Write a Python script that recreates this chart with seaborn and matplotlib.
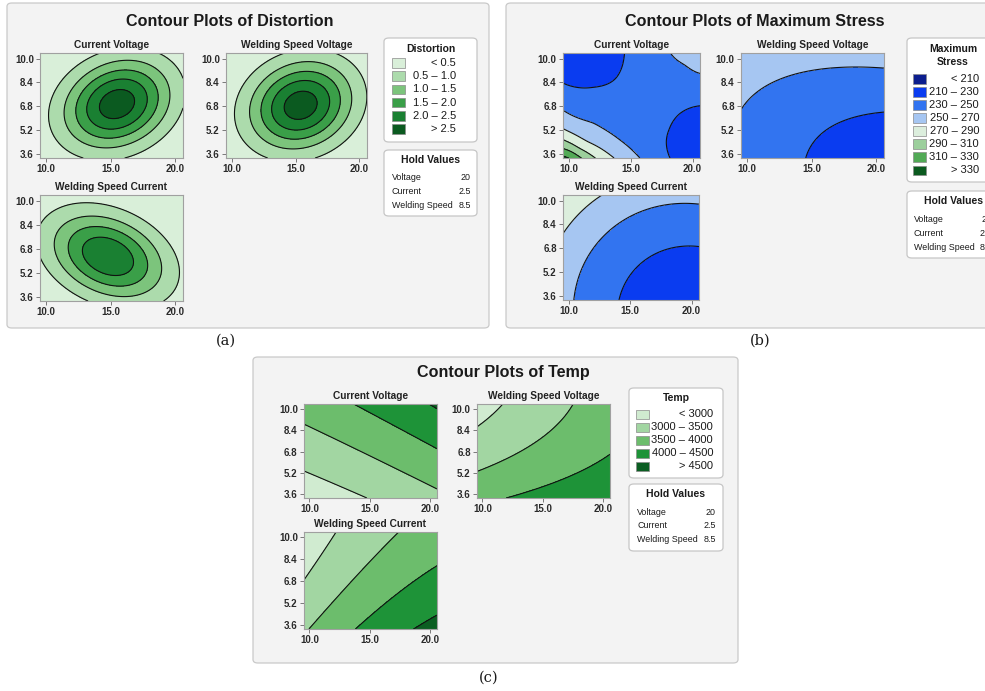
import numpy as np
import matplotlib
matplotlib.use("Agg")
import matplotlib.pyplot as plt
import seaborn as sns
from matplotlib.patches import FancyBboxPatch, Rectangle

sns.set_theme(style="white")
plt.rcParams['font.family'] = ['Liberation Sans', 'DejaVu Sans']

# ---------------------------------------------------------------- data
subplot_titles = ["Current Voltage", "Welding Speed Voltage", "Welding Speed Current"]
x_ticks = [10.0, 15.0, 20.0]
y_ticks = [3.6, 5.2, 6.8, 8.4, 10.0]
x_range = (9.55, 20.6)
y_range = (3.33, 10.38)

hold_names = ["Voltage", "Current", "Welding Speed"]
hold_values = ["20", "2.5", "8.5"]

# Distortion (bell shaped response): peak, centre, spread, correlation per subplot
distortion_bounds = [0.5, 1.0, 1.5, 2.0, 2.5]
distortion_labels = ["< 0.5", "0.5 – 1.0", "1.0 – 1.5", "1.5 – 2.0", "2.0 – 2.5", "> 2.5"]
distortion_colors = ['#d9efd9', '#acdbac', '#7cc47c', '#3a9f48', '#1a8032', '#0b5a20']
distortion_peak = [2.80, 2.78, 2.45]
distortion_cx = [15.5, 15.4, 14.8]
distortion_cy = [6.95, 6.87, 6.30]
distortion_sx = [2.85, 2.80, 3.10]
distortion_sy = [2.05, 2.05, 2.00]
distortion_rho = [0.20, 0.15, -0.30]

# Maximum stress: points (x, y, value); most lie on contour lines
stress_bounds = [210, 230, 250, 270, 290, 310, 330]
stress_labels = ["< 210", "210 – 230", "230 – 250", "250 – 270", "270 – 290",
                 "290 – 310", "310 – 330", "> 330"]
stress_colors = ['#0c1e8e', '#0a3cf0', '#3274f0', '#a6c6f2', '#dceedd',
                 '#9ccf9c', '#52aa56', '#0b5a1f']
stress_cv_x = [9.55, 11.99, 13.84, 14.37, 14.5, 18.15, 18.15, 18.95, 20.0, 20.6,
               9.55, 11.99, 14.13, 15.75, 18.15, 19.47, 20.6,
               9.55, 11.5, 13.65, 9.55, 10.8, 12.14, 9.55, 11.07, 9.55, 10.08,
               9.55, 20.6, 20.6, 9.55,
               16.4, 9.55, 16.5, 16.9, 20.6]
stress_cv_y = [8.32, 8.10, 8.66, 9.55, 10.38, 3.33, 5.20, 6.32, 6.76, 6.87,
               6.54, 5.76, 4.53, 3.33, 10.38, 9.66, 8.99,
               5.25, 4.40, 3.33, 4.58, 3.95, 3.33, 3.91, 3.33, 3.42, 3.40,
               10.38, 10.38, 3.33, 3.33,
               7.5, 7.4, 10.38, 3.33, 7.9]
stress_cv_v = [230] * 10 + [250] * 7 + [270, 270, 270, 290, 290, 290, 310, 310, 330, 330,
                                        218, 262, 216, 338,
                                        240, 240, 240, 240, 240]

stress_wsv_x = [9.55, 11.56, 14.1, 16.66, 20.6,
                14.41, 15.64, 16.66, 17.94, 19.21, 20.6,
                9.55, 20.6]
stress_wsv_y = [6.54, 7.65, 8.77, 9.17, 9.26,
                3.33, 4.98, 5.65, 6.20, 6.49, 6.59,
                10.38, 3.33]
stress_wsv_v = [250] * 5 + [230] * 6 + [262, 218]

stress_wsc_x = [9.55, 10.91, 12.78, 10.26, 11.98, 14.67, 17.34, 20.6,
                14.27, 15.47, 17.34, 20.6, 20.6]
stress_wsc_y = [7.46, 8.90, 10.38, 3.33, 7.34, 9.01, 9.61, 9.75,
                3.33, 5.34, 6.56, 6.85, 3.33]
stress_wsc_v = [270] * 3 + [250] * 5 + [230] * 4 + [217]

# Temp: points (x, y, value); most lie on contour lines
temp_bounds = [3000, 3500, 4000, 4500]
temp_labels = ["< 3000", "3000 – 3500", "3500 – 4000", "4000 – 4500", "> 4500"]
temp_colors = ['#d0ebd0', '#a2d6a2', '#6cbd6c', '#1e9338', '#0b5e22']
temp_cv_x = [9.55, 12.06, 14.6, 9.55, 15.08, 20.6, 13.8, 17.22, 20.6, 19.9, 20.6]
temp_cv_y = [5.41, 4.42, 3.33, 8.8, 6.43, 4.06, 10.38, 8.71, 7.0, 10.38, 10.0]
temp_cv_v = [3000] * 3 + [3500] * 3 + [4000] * 3 + [4500] * 2

temp_wsv_x = [9.55, 10.64, 12.18, 9.55, 12.88, 15.68, 17.36, 12.32, 15.68, 18.48, 20.6,
              9.55, 20.6]
temp_wsv_y = [8.56, 9.5, 10.38, 5.33, 6.65, 8.14, 10.38, 3.33, 4.55, 5.9, 6.4,
              10.38, 3.33]
temp_wsv_v = [3000] * 3 + [3500] * 4 + [4000] * 4 + [2850, 4380]

temp_wsc_x = [9.55, 10.7, 12.52, 9.86, 13.36, 15.32, 17.28, 14.06, 17.28, 20.6, 18.4, 20.6]
temp_wsc_y = [6.73, 8.64, 10.38, 3.33, 6.85, 8.76, 10.38, 3.33, 5.54, 7.8, 3.33, 4.46]
temp_wsc_v = [3000] * 3 + [3500] * 4 + [4000] * 3 + [4500] * 2

# ---------------------------------------------------------------- helpers
W, H = 985, 691
fig = plt.figure(figsize=(W / 100, H / 100), dpi=100)
fig.patch.set_facecolor('white')

gx = np.linspace(x_range[0], x_range[1], 300)
gy = np.linspace(y_range[0], y_range[1], 300)
GX, GY = np.meshgrid(gx, gy)
YS = 15.0 / 13.0   # one unit of y is drawn a little longer than one unit of x


def basis(x, y):
    u = (np.asarray(x, float) - 15.0) / 5.0
    v = (np.asarray(y, float) - 6.8) / 3.2
    return np.stack([np.ones_like(u), u, v, u * u, v * v, u * v], axis=-1)


def quad_surface(xs, ys, vs, iters=15):
    """Quadratic response surface fitted to the read contour points; re-weighted so
    the error is measured as a distance from the contour line."""
    xs = np.asarray(xs, float)
    ys = np.asarray(ys, float)
    vs = np.asarray(vs, float)
    A = basis(xs, ys)
    w = np.ones_like(vs)
    eps = 1e-3
    for _ in range(iters):
        coef, *_ = np.linalg.lstsq(A * w[:, None], vs * w, rcond=None)
        gxv = (basis(xs + eps, ys) @ coef - basis(xs - eps, ys) @ coef) / (2 * eps)
        gyv = (basis(xs, ys + eps) @ coef - basis(xs, ys - eps) @ coef) / (2 * eps)
        g = np.hypot(gxv / 13.0, gyv / 15.0)
        g = np.maximum(g, np.median(g) * 0.2)
        w = 1.0 / g
        w = w / w.mean()
    return basis(GX, GY) @ coef


def tps_kernel(d):
    return np.where(d > 0, d * d * np.log(np.maximum(d, 1e-12)), 0.0)


def tps_surface(xs, ys, vs, lam):
    px = np.asarray(xs, float)
    py = np.asarray(ys, float) * YS
    v = np.asarray(vs, float)
    n = len(v)
    K = tps_kernel(np.hypot(px[:, None] - px[None, :], py[:, None] - py[None, :]))
    K = K + lam * np.eye(n)
    P = np.column_stack([np.ones(n), px, py])
    A = np.block([[K, P], [P.T, np.zeros((3, 3))]])
    sol = np.linalg.solve(A, np.concatenate([v, np.zeros(3)]))
    w, a = sol[:n], sol[n:]
    qx, qy = GX, GY * YS
    Kg = tps_kernel(np.hypot(qx[..., None] - px, qy[..., None] - py))
    return Kg @ w + a[0] + a[1] * qx + a[2] * qy


def bell(peak, cx, cy, sx, sy, rho):
    u = (GX - cx) / sx
    v = (GY - cy) / sy
    q = (u * u - 2 * rho * u * v + v * v) / (1 - rho ** 2)
    return peak * np.exp(-0.5 * q)


def box(x1, y1, x2, y2, fc, ec, z, rs=0.005):
    fig.add_artist(FancyBboxPatch((x1 / W, 1 - y2 / H), (x2 - x1) / W, (y2 - y1) / H,
                                  boxstyle=f"round,pad=0,rounding_size={rs}",
                                  transform=fig.transFigure, fc=fc, ec=ec, lw=0.9,
                                  zorder=z))


def txt(x, y, s, **kw):
    kw.setdefault('va', 'center')
    kw.setdefault('color', '#1a1a1a')
    fig.text(x / W, 1 - y / H, s, **kw)


def draw_axes(rect, Z, bounds, colors, title):
    x1, y1, x2, y2 = rect
    ax = fig.add_axes([x1 / W, 1 - y2 / H, (x2 - x1) / W, (y2 - y1) / H])
    lv = [-1e9] + list(bounds) + [1e9]
    ax.contourf(GX, GY, Z, levels=lv, colors=colors)
    ax.contour(GX, GY, Z, levels=bounds, colors='#111111', linewidths=0.8)
    ax.set_xlim(*x_range)
    ax.set_ylim(*y_range)
    ax.set_xticks(x_ticks)
    ax.set_xticklabels([f"{t:.1f}" for t in x_ticks])
    ax.set_yticks(y_ticks)
    ax.set_yticklabels([f"{t:.1f}" for t in y_ticks])
    ax.tick_params(direction='out', length=3, width=0.6, color='#666666',
                   labelsize=7, pad=1.5, labelcolor='#2a2a2a',
                   bottom=True, left=True)
    for lab in ax.get_xticklabels() + ax.get_yticklabels():
        lab.set_fontweight('bold')
    for sp in ax.spines.values():
        sp.set_color('#a0a0a0')
        sp.set_linewidth(0.8)
    ax.set_title(title, fontsize=7.3, fontweight='bold', pad=3.5, color='#222222')
    return ax


def legend(x1, x2, title_lines, title_y, rows_y, labels, colors, sw_x, lab_x):
    for i, line in enumerate(title_lines):
        txt((x1 + x2) / 2, title_y + i * 12.7, line, ha='center', fontsize=7.5,
            fontweight='bold')
    for yy, lab, c in zip(rows_y, labels, colors):
        fig.add_artist(Rectangle((sw_x / W, 1 - (yy + 4.8) / H), 13 / W, 9.6 / H,
                                 transform=fig.transFigure, fc=c, ec='#8a8a8a',
                                 lw=0.5, zorder=2))
        txt(lab_x, yy, lab, ha='right', fontsize=8)


def hold(x1, x2, title_y, rows_y, lab_x, val_x):
    txt((x1 + x2) / 2, title_y, "Hold Values", ha='center', fontsize=7.5,
        fontweight='bold')
    for yy, n, v in zip(rows_y, hold_names, hold_values):
        txt(lab_x, yy, n, ha='left', fontsize=6.4)
        txt(val_x, yy, v, ha='right', fontsize=6.4)


# ---------------------------------------------------------------- panel (a)
box(7, 3, 489, 328, '#f3f3f3', '#c9c9c9', -5)
txt(230, 22, "Contour Plots of Distortion", ha='center', fontsize=11.6, fontweight='bold')
rects_a = [(40, 53, 183, 158), (226, 53, 367, 158), (40, 195, 183, 301)]
for i in range(3):
    Z = bell(distortion_peak[i], distortion_cx[i], distortion_cy[i],
             distortion_sx[i], distortion_sy[i], distortion_rho[i])
    draw_axes(rects_a[i], Z, distortion_bounds, distortion_colors, subplot_titles[i])
box(384, 38, 477, 142, 'white', '#c6c6c6', -1)
legend(384, 477, ["Distortion"], 49, [63, 76.2, 89.4, 102.6, 115.8, 129],
       distortion_labels, distortion_colors, 392, 456)
box(384, 150, 477, 216, 'white', '#c6c6c6', -1)
hold(384, 477, 160, [177.5, 191.5, 205.3], 392, 471)
txt(226, 341, "(a)", ha='center', fontsize=10.5, family='DejaVu Serif')

# ---------------------------------------------------------------- panel (b)
box(506, 3, 1010, 328, '#f3f3f3', '#c9c9c9', -5)
txt(755, 22, "Contour Plots of Maximum Stress", ha='center', fontsize=11.6,
    fontweight='bold')
rects_b = [(563, 53, 700, 158), (741, 53, 884, 158), (563, 195, 699, 300)]
stress_fields = [tps_surface(stress_cv_x, stress_cv_y, stress_cv_v, 1.0),
                 quad_surface(stress_wsv_x, stress_wsv_y, stress_wsv_v),
                 quad_surface(stress_wsc_x, stress_wsc_y, stress_wsc_v)]
for i in range(3):
    draw_axes(rects_b[i], stress_fields[i], stress_bounds, stress_colors, subplot_titles[i])
box(907, 38, 1010, 182, 'white', '#c6c6c6', -1)
legend(907, 999, ["Maximum", "Stress"], 49,
       [79, 92, 105, 118, 131, 144, 157, 170.3],
       stress_labels, stress_colors, 913, 979)
box(907, 191, 1010, 258, 'white', '#c6c6c6', -1)
hold(907, 1001, 200.7, [219.3, 233.3, 247.3], 914, 992)
txt(760, 341, "(b)", ha='center', fontsize=10.5, family='DejaVu Serif')

# ---------------------------------------------------------------- panel (c)
box(253, 357, 738, 663, '#f3f3f3', '#c9c9c9', -5)
txt(503, 373, "Contour Plots of Temp", ha='center', fontsize=11.6, fontweight='bold')
rects_c = [(304, 404, 437, 498), (477, 404, 610, 498), (304, 532, 437, 629)]
temp_fields = [quad_surface(temp_cv_x, temp_cv_y, temp_cv_v),
               quad_surface(temp_wsv_x, temp_wsv_y, temp_wsv_v),
               quad_surface(temp_wsc_x, temp_wsc_y, temp_wsc_v)]
for i in range(3):
    draw_axes(rects_c[i], temp_fields[i], temp_bounds, temp_colors, subplot_titles[i])
box(629, 388, 723, 478, 'white', '#c6c6c6', -1)
legend(629, 723, ["Temp"], 398, [414.3, 427.3, 440.3, 453.3, 466.3],
       temp_labels, temp_colors, 636, 713)
box(629, 484, 723, 551, 'white', '#c6c6c6', -1)
hold(629, 723, 494, [512.3, 526, 539.7], 637, 716)
txt(489, 678, "(c)", ha='center', fontsize=10.5, family='DejaVu Serif')

fig.savefig("out.png", dpi=100, facecolor='white')
